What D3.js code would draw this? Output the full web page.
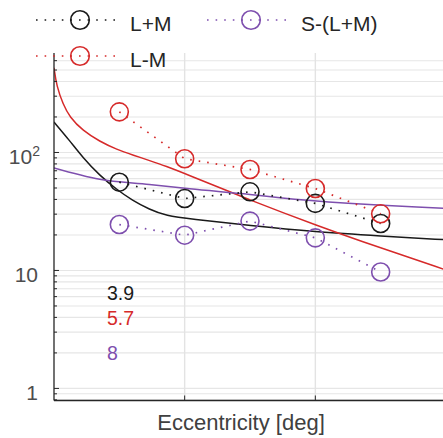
<!DOCTYPE html>
<html>
<head>
<meta charset="utf-8">
<script src="https://cdn.jsdelivr.net/npm/d3@7/dist/d3.min.js"></script>
<style>
  html, body { margin: 0; padding: 0; background: #fff; }
  svg { display: block; font-family: "Liberation Sans", Arial, Helvetica, sans-serif; }
</style>
</head>
<body>
<svg id="chart" width="443" height="438"></svg>
<script>
// ---- data ----
const eccentricity = [0.5, 1, 1.5, 2, 2.5];
const lumValues = [56, 40.7, 46.4, 37, 25];        // L+M
const lmValues = [221, 88.5, 71.8, 49.5, 30.2];    // L-M
const sValues = [24.5, 19.9, 26.2, 18.9, 9.7];     // S-(L+M)

const fitLumX = [0, 0.12, 0.22, 0.35, 0.48, 0.6, 0.73, 0.86, 1.04, 1.5, 2.0, 2.5, 3.0];
const fitLumY = [181, 126, 90.7, 63.8, 48.5, 39.2, 32.9, 29.0, 27.3, 24.0, 21.2, 19.6, 18.2];
const fitLmX = [0, 0.02, 0.07, 0.12, 0.22, 0.35, 0.48, 0.61, 0.73, 0.86, 1.0, 1.5, 2.0, 2.5, 3.0];
const fitLmY = [522, 365, 255, 200, 153, 124, 106, 94.7, 85.5, 76.4, 66.4, 39.4, 24.3, 15.5, 10.1];
const fitSX = [0, 0.35, 0.73, 1.04, 1.5, 1.73, 3.0];
const fitSY = [73.9, 59.3, 53.6, 49.2, 44.1, 41.3, 33.6];

const seriesNames = ["L+M", "S-(L+M)", "L-M"];
const annotations = ["3.9", "5.7", "8"];
const xTicks = [1, 2];
const yLabelTicks = [1, 10, 100];

(function () {
// ---- layout ----
const colors = { lum: "#1a1a1a", lm: "#d62a2a", s: "#7e4fae" };
const svg = d3.select("#chart");
const pLeft = 54, pRight = 446, pTop = 53, pBottom = 400.5;

const x = d3.scaleLinear().domain([0, 3]).range([pLeft, pRight]);
const y = d3.scaleLog().domain([0.79, 697]).range([pBottom, pTop]);

svg.append("defs").append("clipPath").attr("id", "plotclip")
  .append("rect").attr("x", pLeft).attr("y", pTop).attr("width", pRight - pLeft).attr("height", pBottom - pTop);

// grid
const minorVals = [];
for (let d = -1; d <= 3; d++) for (let k = 1; k <= 9; k++) {
  const v = k * Math.pow(10, d);
  if (v >= y.domain()[0] && v <= y.domain()[1]) minorVals.push(v);
}
const grid = svg.append("g");
grid.selectAll("line.h").data(minorVals).enter().append("line")
  .attr("x1", pLeft).attr("x2", pRight)
  .attr("y1", d => y(d)).attr("y2", d => y(d))
  .attr("stroke", "#e6e6e6").attr("stroke-width", 1.1);
grid.selectAll("line.v").data(xTicks).enter().append("line")
  .attr("x1", d => x(d)).attr("x2", d => x(d))
  .attr("y1", pTop).attr("y2", pBottom)
  .attr("stroke", "#e3e3e3").attr("stroke-width", 1.4);

const plot = svg.append("g").attr("clip-path", "url(#plotclip)");

// fits
const fitLineMono = d3.line().x(d => x(d[0])).y(d => y(d[1])).curve(d3.curveMonotoneX);
const fitLineSmooth = d3.line().x(d => x(d[0])).y(d => y(d[1])).curve(d3.curveBasis);
const fits = [
  [fitLumX, fitLumY, colors.lum, fitLineSmooth],
  [fitLmX, fitLmY, colors.lm, fitLineSmooth],
  [fitSX, fitSY, colors.s, fitLineMono]
];
fits.forEach(([xs, ys, c, gen]) => {
  plot.append("path").datum(xs.map((v, i) => [v, ys[i]]))
    .attr("d", gen).attr("fill", "none").attr("stroke", c).attr("stroke-width", 1.5);
});

// data series
const dataLine = d3.line().x(d => x(d[0])).y(d => y(d[1]));
const series = [
  [lumValues, colors.lum],
  [lmValues, colors.lm],
  [sValues, colors.s]
];
series.forEach(([vals, c]) => {
  const pts = eccentricity.map((e, i) => [e, vals[i]]);
  plot.append("path").datum(pts).attr("d", dataLine)
    .attr("fill", "none").attr("stroke", c).attr("stroke-width", 1.7)
    .attr("stroke-dasharray", "1.6,7").attr("stroke-linecap", "butt");
  plot.selectAll(null).data(pts).enter().append("circle")
    .attr("cx", d => x(d[0])).attr("cy", d => y(d[1])).attr("r", 9)
    .attr("fill", "none").attr("stroke", c).attr("stroke-width", 1.6);
});

// axes
const axisColor = "#262626";
svg.append("line").attr("x1", pLeft).attr("x2", pLeft).attr("y1", pTop).attr("y2", pBottom)
  .attr("stroke", axisColor).attr("stroke-width", 1.3);
svg.append("line").attr("x1", pLeft).attr("x2", pRight).attr("y1", pBottom).attr("y2", pBottom)
  .attr("stroke", axisColor).attr("stroke-width", 1.3);
svg.selectAll("line.yt").data(minorVals).enter().append("line")
  .attr("x1", pLeft).attr("x2", d => pLeft + (yLabelTicks.includes(d) ? 5 : 3))
  .attr("y1", d => y(d)).attr("y2", d => y(d))
  .attr("stroke", axisColor).attr("stroke-width", 1);
svg.selectAll("line.xt").data(xTicks).enter().append("line")
  .attr("x1", d => x(d)).attr("x2", d => x(d))
  .attr("y1", pBottom).attr("y2", pBottom - 5)
  .attr("stroke", axisColor).attr("stroke-width", 1);

// y tick labels
const labelColor = "#4d4d4d";
yLabelTicks.forEach(v => {
  const t = svg.append("text").attr("text-anchor", "end")
    .attr("y", y(v) + 11.5).attr("font-size", 21).attr("fill", labelColor);
  if (v === 100) {
    t.attr("x", 40);
    t.append("tspan").text("10");
    t.append("tspan").attr("font-size", 14).attr("dy", -8).text("2");
  } else {
    t.attr("x", 38).text(String(v));
  }
});

// x label
svg.append("text").attr("x", 241).attr("y", 430).attr("text-anchor", "middle")
  .attr("font-size", 22).attr("fill", "#404040").text("Eccentricity [deg]");

// legend
const legendItems = [
  { name: seriesNames[0], c: colors.lum, lx: 36, ly: 20 },
  { name: seriesNames[1], c: colors.s, lx: 207, ly: 20 },
  { name: seriesNames[2], c: colors.lm, lx: 36, ly: 56 }
];
const lg = svg.append("g");
legendItems.forEach(it => {
  lg.append("line").attr("x1", it.lx).attr("x2", it.lx + 84).attr("y1", it.ly).attr("y2", it.ly)
    .attr("stroke", it.c).attr("stroke-width", 1.7).attr("stroke-dasharray", "1.6,7");
  lg.append("circle").attr("cx", it.lx + 44).attr("cy", it.ly).attr("r", 9.3)
    .attr("fill", "none").attr("stroke", it.c).attr("stroke-width", 1.6);
  lg.append("text").attr("x", it.lx + 94).attr("y", it.ly + 10.5)
    .attr("font-size", 21).attr("fill", "#262626").text(it.name);
});

// annotations
const annColors = [colors.lum, colors.lm, colors.s];
const annY = [300, 325, 360];
annotations.forEach((a, i) => {
  svg.append("text").attr("x", 107).attr("y", annY[i]).attr("font-size", 19.5)
    .attr("fill", annColors[i]).text(a);
});
})();
</script>
</body>
</html>
